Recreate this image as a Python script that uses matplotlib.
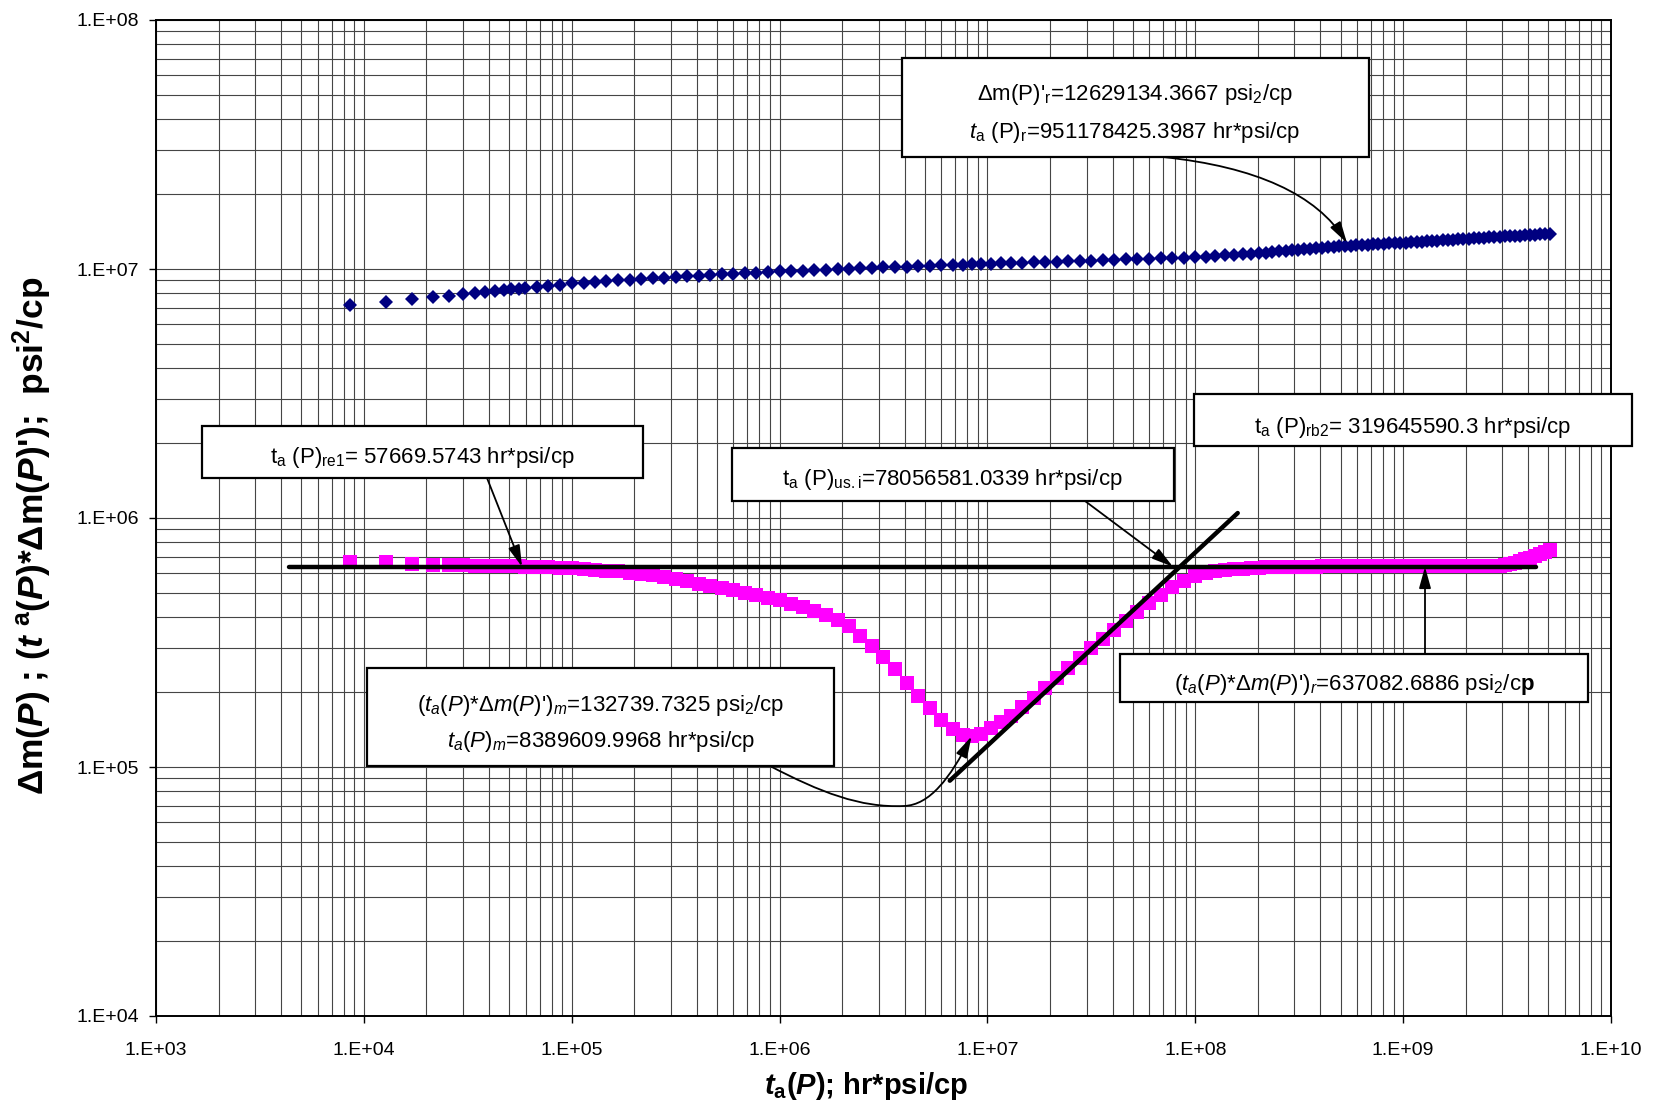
import numpy as np
import matplotlib
matplotlib.use("Agg")
import matplotlib.pyplot as plt
from matplotlib.patches import Rectangle, FancyArrowPatch
from matplotlib.path import Path
from matplotlib.ticker import LogLocator, FuncFormatter, NullFormatter

plt.rcParams.update({
    "font.family": ["Liberation Sans", "DejaVu Sans"],
    "mathtext.fontset": "custom",
    "mathtext.rm": "Liberation Sans",
    "mathtext.it": "Liberation Sans:italic",
    "mathtext.bf": "Liberation Sans:bold",
    "mathtext.bfit": "Liberation Sans:italic:bold",
    "mathtext.default": "regular",
})

# ---------------------------------------------------------------- data
# pseudo-time t_a(P), hr*psi/cp
ta = [8.54e3, 1.28e4, 1.71e4, 2.14e4, 2.56e4, 2.99e4, 3.42e4, 3.84e4, 4.27e4,
      4.70e4, 5.12e4, 5.55e4, 5.98e4,
      6.8e4, 7.7e4, 8.8e4, 1.0e5, 1.14e5, 1.29e5, 1.47e5, 1.67e5, 1.90e5,
      2.15e5, 2.45e5, 2.78e5, 3.16e5, 3.59e5, 4.08e5, 4.64e5, 5.27e5, 5.99e5,
      6.81e5, 7.74e5, 8.80e5,
      1.0e6, 1.14e6, 1.29e6, 1.47e6, 1.67e6, 1.90e6, 2.15e6, 2.45e6, 2.78e6,
      3.16e6, 3.59e6, 4.08e6, 4.64e6, 5.27e6, 5.99e6, 6.81e6, 7.60e6,
      8389609.9968, 9.3e6,
      1.04e7, 1.16e7, 1.30e7, 1.47e7, 1.67e7, 1.90e7, 2.15e7, 2.45e7, 2.78e7,
      3.16e7, 3.59e7, 4.08e7, 4.64e7, 5.27e7, 5.99e7, 6.81e7, 7.74e7, 8.80e7,
      1.0e8, 1.12e8, 1.25e8, 1.39e8, 1.54e8, 1.70e8, 1.86e8, 2.02e8, 2.18e8,
      2.35e8, 2.53e8, 2.72e8, 2.92e8, 3.13e8, 3.35e8, 3.58e8, 3.82e8, 4.08e8,
      4.35e8, 4.64e8, 4.94e8, 5.26e8, 5.60e8, 5.96e8, 6.34e8, 6.74e8, 7.16e8,
      7.61e8, 8.08e8, 8.58e8, 9.11e8, 9.67e8,
      1.03e9, 1.09e9, 1.16e9, 1.23e9, 1.30e9, 1.38e9, 1.46e9, 1.55e9, 1.64e9,
      1.74e9, 1.84e9, 1.95e9, 2.07e9, 2.19e9, 2.32e9, 2.46e9, 2.60e9, 2.75e9,
      2.91e9, 3.08e9, 3.26e9, 3.45e9, 3.65e9, 3.86e9, 4.08e9, 4.31e9, 4.55e9,
      4.80e9, 5.07e9]

# pseudo-pressure change Δm(P), millions of psi²/cp
dm_millions = [7.15, 7.40, 7.58, 7.71, 7.82, 7.91, 8.00, 8.08, 8.16, 8.23, 8.28,
               8.34, 8.39,
               8.48, 8.57, 8.66, 8.75, 8.81, 8.87, 8.93, 9.00, 9.06, 9.12, 9.18,
               9.24, 9.30, 9.35, 9.41, 9.46, 9.51, 9.57, 9.62, 9.67, 9.73,
               9.78, 9.82, 9.86, 9.90, 9.94, 9.99, 10.03, 10.07, 10.11, 10.15,
               10.19, 10.23, 10.27, 10.31, 10.34, 10.38, 10.42, 10.45, 10.48,
               10.51, 10.54, 10.57, 10.60, 10.63, 10.67, 10.70, 10.73, 10.77,
               10.80, 10.84, 10.88, 10.92, 10.96, 11.00, 11.03, 11.07, 11.11,
               11.15, 11.22, 11.28, 11.34, 11.40, 11.46, 11.51, 11.56, 11.63,
               11.69, 11.76, 11.82, 11.88, 11.94, 12.00, 12.06, 12.11, 12.17,
               12.23, 12.28, 12.34, 12.38, 12.42, 12.45, 12.49, 12.52, 12.56,
               12.59, 12.63, 12.66, 12.70, 12.73,
               12.77, 12.81, 12.85, 12.89, 12.92, 12.96, 13.00, 13.04, 13.07,
               13.11, 13.15, 13.19, 13.23, 13.26, 13.30, 13.35, 13.39, 13.43,
               13.47, 13.51, 13.55, 13.59, 13.63, 13.67, 13.71, 13.74, 13.78,
               13.82, 13.86]

# pressure derivative t_a(P)*Δm(P)', thousands of psi²/cp
deriv_thousands = [667, 667, 655, 645, 645, 645, 644, 643, 642, 641, 640, 639, 638,
                   636, 634, 631, 627, 623, 619, 615, 610, 604, 597, 588, 578,
                   567, 556, 545, 534, 523, 512, 501, 490, 478,
                   467, 452, 438, 424, 409, 390, 367, 337, 307, 277, 248, 218,
                   193, 172, 155, 142, 135, 132.7397325, 136,
                   143, 151, 161, 174, 190, 208, 227, 250, 274, 300, 328, 356,
                   387, 420, 455, 490, 528, 560,
                   585, 600, 610, 617, 622, 626, 629, 631, 633, 634, 635, 636,
                   637, 637, 638, 638, 638, 639, 639, 639, 639, 640, 640, 640,
                   640, 640, 640, 640, 640, 640, 640, 640,
                   640, 640, 640, 640, 640, 640, 640, 640, 640, 640, 640, 640,
                   640, 640, 640, 640, 640, 640, 640, 645, 652, 660, 670, 682,
                   694, 706, 718, 730, 742]

ta = np.array(ta)
dm = np.array(dm_millions) * 1e6
deriv = np.array(deriv_thousands) * 1e3

# characteristic values
deriv_r = 637082.6886          # radial-flow derivative level
ta_re1 = 57669.5743
ta_usi = 78056581.0339
ta_rb2 = 319645590.3
deriv_m = 132739.7325
ta_m = 8389609.9968
dm_r = 12629134.3667
ta_r = 951178425.3987

# radial-flow line and late-time straight line
radial_x = [4.36e3, 4.37e9]
slope_x = [6.59e6, 1.60e8]
slope_y = [8.81e4, 1.047e6]

x_ticks = [1e3, 1e4, 1e5, 1e6, 1e7, 1e8, 1e9, 1e10]
y_ticks = [1e4, 1e5, 1e6, 1e7, 1e8]

# ---------------------------------------------------------------- figure
W, H = 1658, 1105
fig = plt.figure(figsize=(W / 100, H / 100), dpi=100)
AX_L, AX_R, AX_T, AX_B = 156, 1611, 20, 1016
ax = fig.add_axes([AX_L / W, 1 - AX_B / H, (AX_R - AX_L) / W, (AX_B - AX_T) / H])


def to_axes(xp, yp):
    """Figure pixel position (origin top-left) -> axes fraction."""
    return ((xp - AX_L) / (AX_R - AX_L), (AX_B - yp) / (AX_B - AX_T))


def data_to_axes(x, y):
    return tuple(ax.transAxes.inverted().transform(ax.transData.transform((x, y))))


ax.set_xscale("log")
ax.set_yscale("log")
ax.set_xlim(x_ticks[0], x_ticks[-1])
ax.set_ylim(y_ticks[0], y_ticks[-1])

ax.xaxis.set_major_locator(LogLocator(base=10, numticks=20))
ax.yaxis.set_major_locator(LogLocator(base=10, numticks=20))
ax.xaxis.set_minor_locator(LogLocator(base=10, subs=np.arange(2, 10), numticks=100))
ax.yaxis.set_minor_locator(LogLocator(base=10, subs=np.arange(2, 10), numticks=100))
fmt = FuncFormatter(lambda v, p: "1.E+%02d" % int(round(np.log10(v))))
ax.xaxis.set_major_formatter(fmt)
ax.yaxis.set_major_formatter(fmt)
ax.xaxis.set_minor_formatter(NullFormatter())
ax.yaxis.set_minor_formatter(NullFormatter())
ax.xaxis.get_offset_text().set_visible(False)
ax.yaxis.get_offset_text().set_visible(False)

ax.grid(True, which="both", color="#454545", lw=0.8)
ax.set_axisbelow(True)
ax.tick_params(which="major", direction="out", length=5, width=1.0,
               colors="black", labelsize=14)
ax.tick_params(axis="y", which="major", pad=7)
ax.tick_params(axis="x", which="major", pad=14)
ax.tick_params(which="minor", length=0)
for s in ax.spines.values():
    s.set_linewidth(1.4)
    s.set_color("black")

# data series
ax.plot(ta, dm, linestyle="none", marker="D", ms=7.5, color="#000080",
        mew=0, zorder=3)
ax.plot(ta, deriv, linestyle="none", marker="s", ms=9.5, color="#FF00FF",
        mew=0, zorder=3)

# straight lines
ax.plot(radial_x, [deriv_r, deriv_r], color="black", lw=3.2,
        solid_capstyle="round", zorder=4)
ax.plot(slope_x, slope_y, color="black", lw=3.2, solid_capstyle="round", zorder=4)

# ---------------------------------------------------------------- annotations
TXT = dict(transform=ax.transAxes, ha="center", va="baseline", fontsize=16,
           zorder=7, clip_on=False)
ARROW = "-|>,head_length=0.65,head_width=0.18"


def draw_box(x0, y0, x1, y1):
    a0 = to_axes(x0, y1)
    a1 = to_axes(x1, y0)
    r = Rectangle(a0, a1[0] - a0[0], a1[1] - a0[1], transform=ax.transAxes,
                  facecolor="white", edgecolor="black", lw=1.6, zorder=6,
                  clip_on=False)
    ax.add_patch(r)


def arrow(start, end, conn="arc3,rad=0"):
    """Arrow between two axes-fraction points."""
    a = FancyArrowPatch(start, end, arrowstyle=ARROW, mutation_scale=20,
                        color="black", lw=1.3, shrinkA=0, shrinkB=0,
                        connectionstyle=conn, transform=ax.transAxes,
                        zorder=8, clip_on=False)
    ax.add_patch(a)


# Δm(P)'r box (top right)
draw_box(902, 58, 1369, 157)
ax.text(*to_axes(1135, 100), r"Δm(P)'$_{r}$=%.4f psi$_{2}$/cp" % dm_r, **TXT)
ax.text(*to_axes(1135, 138),
        r"$\mathit{t}_{a}$ (P)$_{r}$=%.4f hr*psi/cp" % ta_r, **TXT)
arrow(to_axes(1163, 157), to_axes(1347, 243),
      conn="angle3,angleA=-6,angleB=122")

# t_a(P)re1 box
draw_box(202, 426, 643, 478)
ax.text(*to_axes(422, 463), r"t$_{a}$ (P)$_{re1}$= %.4f hr*psi/cp" % ta_re1, **TXT)
arrow(to_axes(487, 478), data_to_axes(ta_re1, deriv_r))

# t_a(P)us.i box
draw_box(732, 448, 1174, 501)
ax.text(*to_axes(952, 485), r"t$_{a}$ (P)$_{us.i}$=%.4f hr*psi/cp" % ta_usi, **TXT)
arrow(to_axes(1085, 501), data_to_axes(ta_usi, deriv_r))

# t_a(P)rb2 box
draw_box(1194, 394, 1632, 446)
ax.text(*to_axes(1413, 432.5), r"t$_{a}$ (P)$_{rb2}$= %.1f hr*psi/cp" % ta_rb2, **TXT)

# minimum box
draw_box(367, 668, 834, 766)
ax.text(*to_axes(601, 711),
        r"$\mathit{(t}_{\mathit{a}}\mathit{(P)}$*$\mathit{Δm(P)}$'"
        r"$\mathit{)}_{\mathit{m}}$=%.4f psi$_{2}$/cp" % deriv_m, **TXT)
ax.text(*to_axes(601, 747),
        r"$\mathit{t}_{\mathit{a}}\mathit{(P)}_{\mathit{m}}$=%.4f hr*psi/cp" % ta_m,
        **TXT)
tip = data_to_axes(ta_m, deriv_m)
verts = [to_axes(770, 766), to_axes(820, 792), to_axes(860, 808), to_axes(904, 806),
         to_axes(930, 805), to_axes(950, 778), tip]
codes = [Path.MOVETO] + [Path.CURVE4] * 6
curve = FancyArrowPatch(path=Path(verts, codes), arrowstyle=ARROW,
                        mutation_scale=20, color="black", lw=1.3,
                        transform=ax.transAxes, zorder=8, clip_on=False)
ax.add_patch(curve)

# radial derivative box
draw_box(1120, 654, 1588, 702)
ax.text(*to_axes(1354, 690),
        r"$\mathit{(t}_{\mathit{a}}\mathit{(P)}$*$\mathit{Δm(P)}$'"
        r"$\mathit{)}_{\mathit{r}}$=%.4f psi$_{2}$/c$\mathbf{p}$" % deriv_r, **TXT)
arrow(to_axes(1425, 654), (to_axes(1425, 0)[0], data_to_axes(ta_r, deriv_r)[1]))

# ---------------------------------------------------------------- axis labels
ax.set_xlabel(r"$\mathbfit{t}_{\mathbf{a}}$($\mathbfit{P}$); hr*psi/cp",
              fontsize=21, fontweight="bold")
ax.xaxis.label.set_verticalalignment("center")
ax.xaxis.set_label_coords(*to_axes(866, 1086))

ax.set_ylabel(r"Δm($\mathbfit{P}$) ; ($\mathbfit{t}$ $^{\mathregular{a}}$($\mathbfit{P}$)"
              r"*Δm($\mathbfit{P}$)');  psi$^{\mathbf{2}}$/cp",
              fontsize=25.5, fontweight="bold")
ax.yaxis.label.set_verticalalignment("center")
ax.yaxis.set_label_coords(*to_axes(32, 536))

fig.savefig("out.png", dpi=100)
